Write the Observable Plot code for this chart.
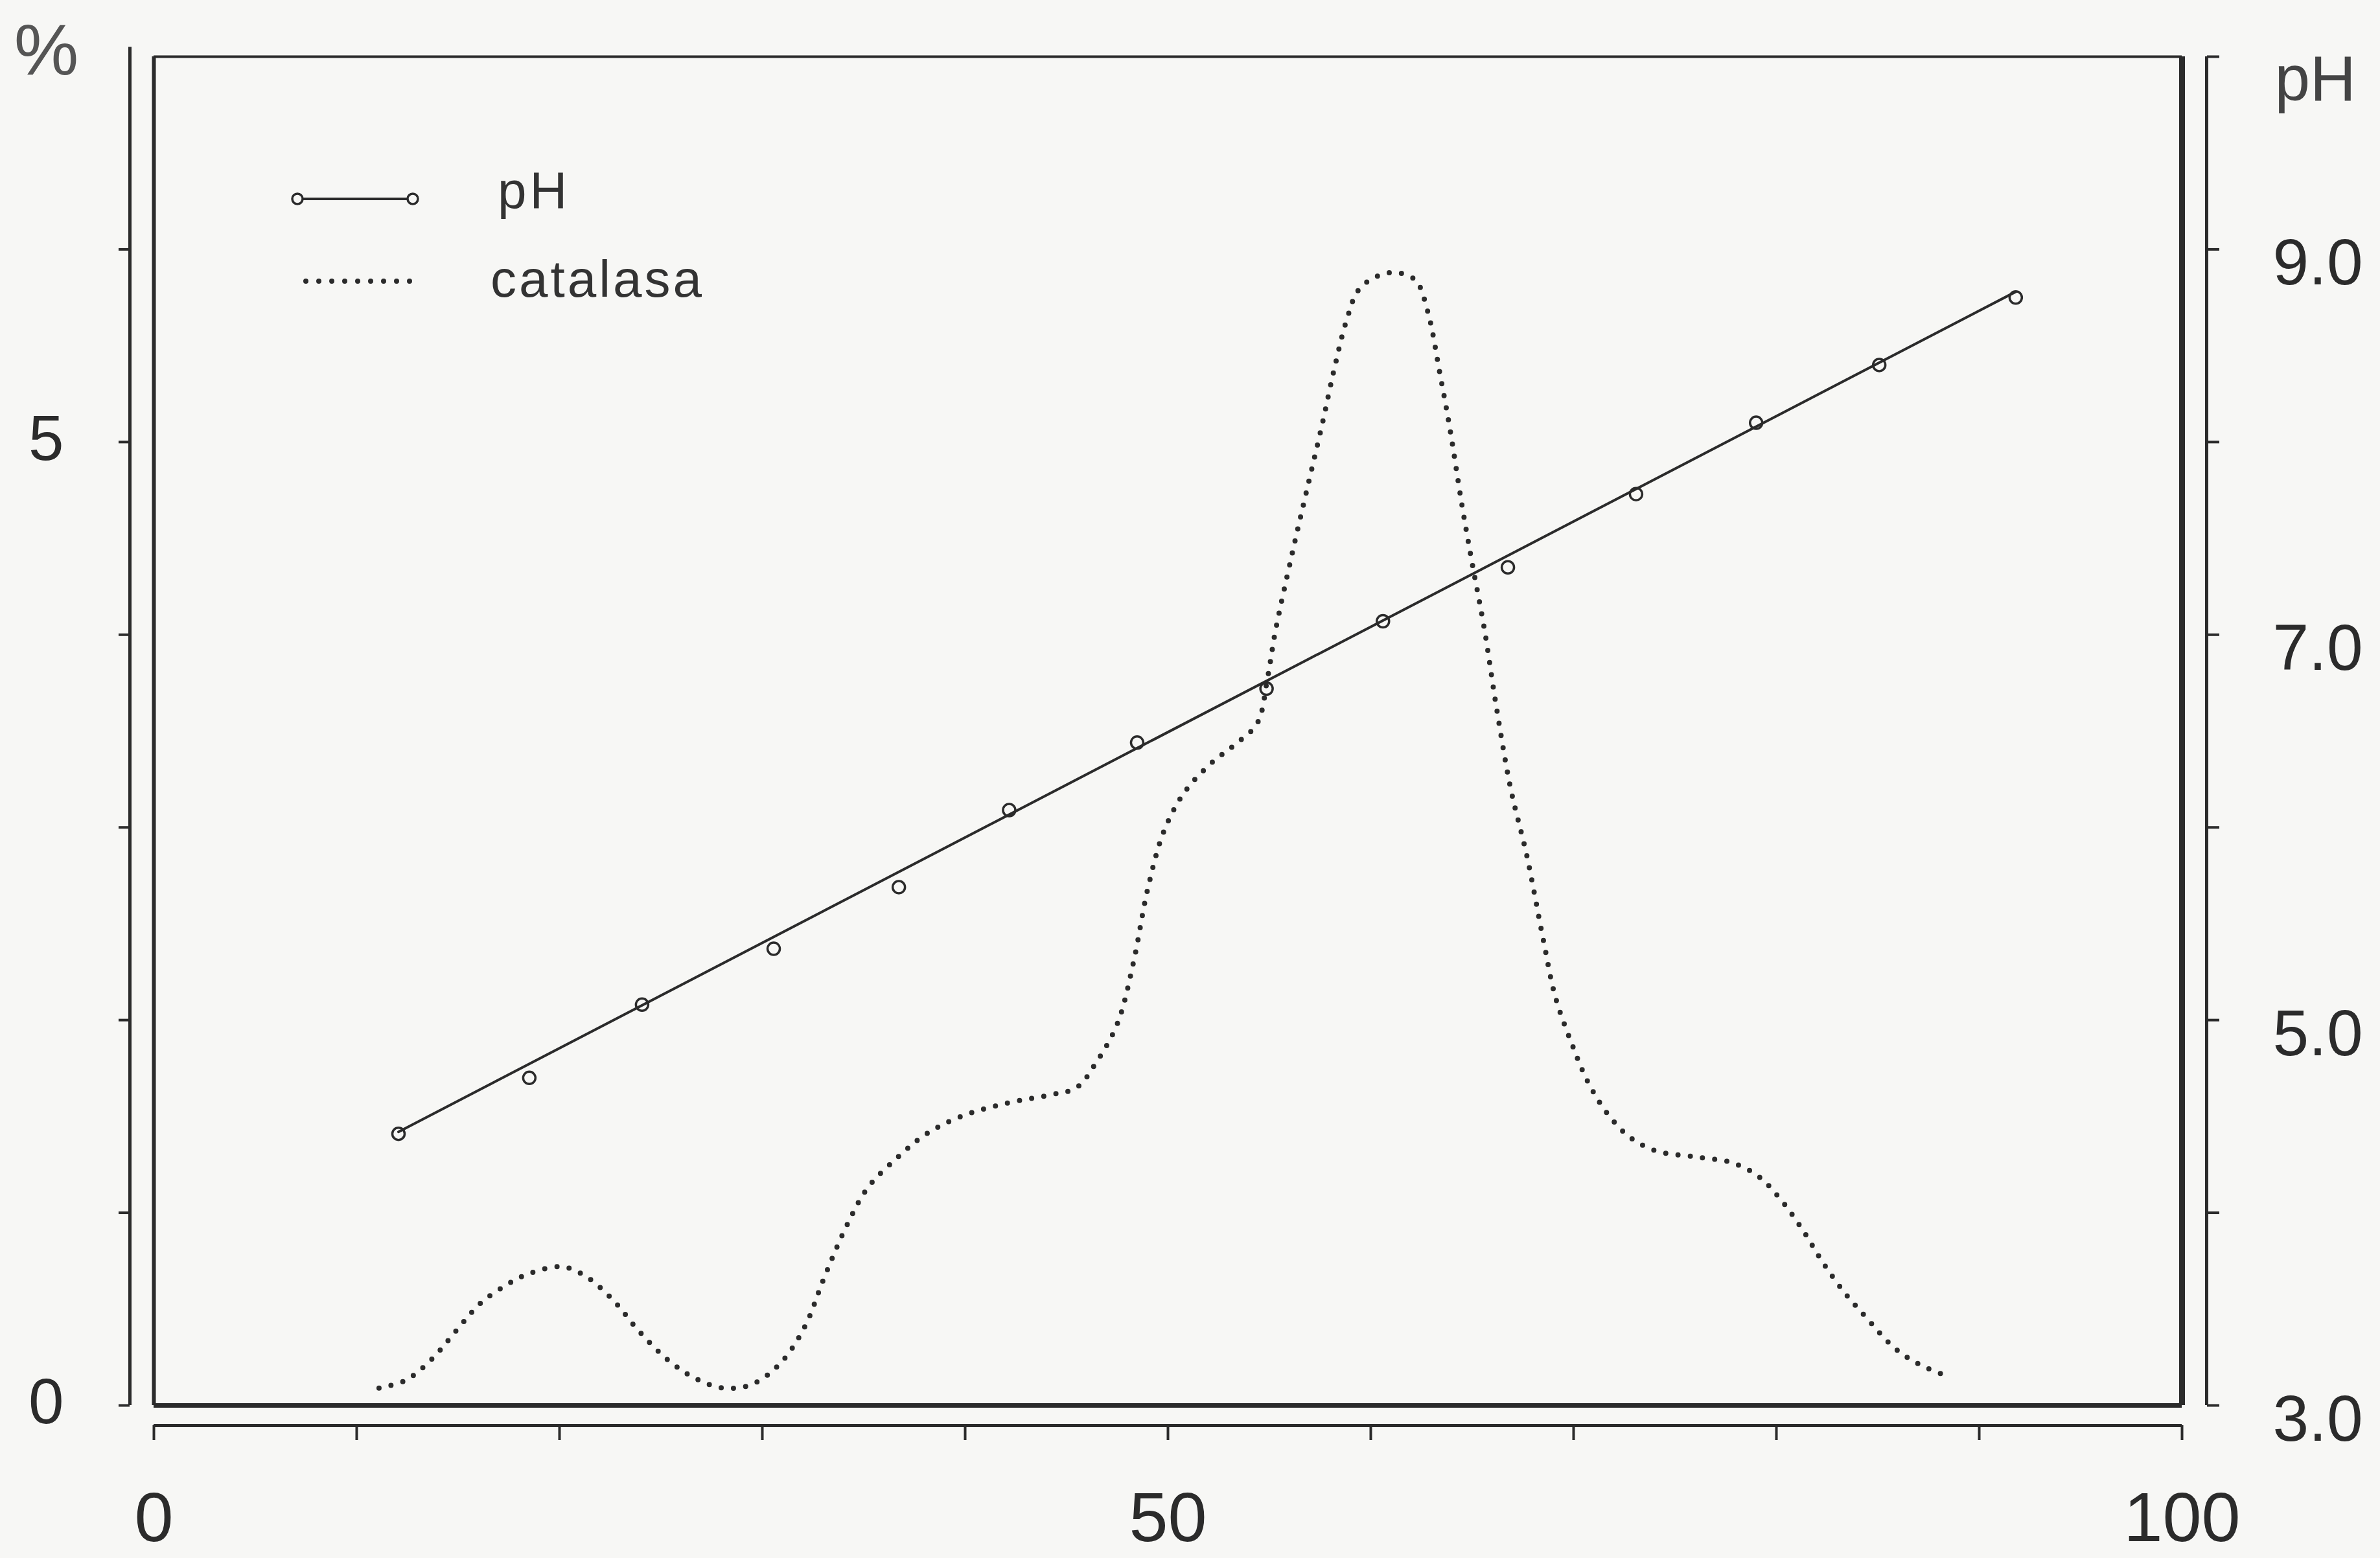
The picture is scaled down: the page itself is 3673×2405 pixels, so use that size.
<!DOCTYPE html>
<html>
<head>
<meta charset="utf-8">
<script src="https://cdn.jsdelivr.net/npm/d3@7"></script>
<script src="https://cdn.jsdelivr.net/npm/@observablehq/plot@0.6"></script>
<style>
  html, body { margin: 0; padding: 0; background: #f7f7f5; }
  #chart { position: relative; width: 3673px; height: 2405px; }
</style>
</head>
<body>
<div id="chart"></div>
<script>
// ---------- data ----------
// pH measurements (open circles)
const phX      = [12.06, 18.51, 24.07, 30.56, 36.73, 42.17, 48.48, 54.86, 60.6, 66.76, 73.08, 79.0, 85.07, 91.8];
const phValues = [4.41, 4.70, 5.08, 5.37, 5.69, 6.09, 6.44, 6.72, 7.07, 7.35, 7.73, 8.10, 8.40, 8.75];
// straight pH line drawn through the points
const phLineX      = [12.06, 91.8];
const phLineValues = [4.42, 8.78];
// catalasa (%), dotted curve
const catalasaX = [11.1, 12.4, 13.7, 15.0, 16.1, 17.3, 18.4, 20.1, 21.3, 22.7, 23.8, 25.3, 26.7, 28.1, 29.5,
  30.9, 32.1, 33.0, 34.1, 35.2, 36.7, 38.1, 39.8, 42.1, 44.1, 45.5, 46.4, 47.5, 48.3, 49.0, 49.8, 50.8, 52.1,
  53.3, 54.4, 54.9, 55.3, 56.1, 56.8, 57.6, 58.2, 58.8, 59.4, 60.3, 61.2, 62.2, 62.8, 63.4, 63.9, 64.5, 65.0,
  65.6, 66.2, 66.9, 67.7, 68.5, 69.1, 69.9, 70.7, 71.7, 72.8, 74.1, 76.0, 77.8, 79.1, 80.2, 81.3, 82.3, 83.4,
  84.4, 85.8, 87.1, 88.5];
const catalasaPct = [0.09, 0.13, 0.24, 0.40, 0.53, 0.62, 0.68, 0.72, 0.67, 0.54, 0.40, 0.24, 0.14, 0.09, 0.11,
  0.22, 0.41, 0.65, 0.92, 1.13, 1.29, 1.41, 1.50, 1.57, 1.61, 1.65, 1.77, 1.98, 2.30, 2.68, 2.98, 3.18, 3.33,
  3.43, 3.54, 3.77, 4.02, 4.41, 4.73, 5.09, 5.38, 5.63, 5.79, 5.86, 5.88, 5.84, 5.68, 5.36, 5.07, 4.67, 4.37,
  4.03, 3.62, 3.20, 2.85, 2.42, 2.12, 1.88, 1.68, 1.51, 1.39, 1.32, 1.29, 1.26, 1.19, 1.07, 0.91, 0.74, 0.58,
  0.46, 0.30, 0.21, 0.15];

// ---------- ticks ----------
const xTicks = [0, 10, 20, 30, 40, 50, 60, 70, 80, 90, 100];
const xTickLabels = [0, 50, 100];
const pctTicks = [0, 1, 2, 3, 4, 5, 6];
const pctTickLabels = [0, 5];
const phTicks = [3, 4, 5, 6, 7, 8, 9, 10];
const phTickLabels = [3, 5, 7, 9];
const PH_AT_ZERO = 3; // right axis: 0 % corresponds to pH 3.0, one pH unit per 1 %

// ---------- tables built from the arrays ----------
const phData = phX.map((x, i) => ({x, ph: phValues[i]}));
const phLine = phLineX.map((x, i) => ({x, ph: phLineValues[i]}));
const catalasa = catalasaX.map((x, i) => ({x, pct: catalasaPct[i]}));

const ink = "#2b2b2b";
const bg = "#f7f7f5";
const font = "'Liberation Sans', Arial, Helvetica, sans-serif";
const noText = () => "";

const plot = Plot.plot({
  width: 3673,
  height: 2405,
  marginLeft: 237,
  marginRight: 306,
  marginTop: 87,
  marginBottom: 236,
  x: {domain: [0, 100], axis: null, label: null},
  y: {domain: [0, 7], axis: null, label: null},
  style: {background: "transparent", fontFamily: font, color: ink},
  marks: [
    // plot box
    Plot.ruleY([0], {x1: 0, x2: 100, stroke: ink, strokeWidth: 7}),
    Plot.ruleY([7], {x1: 0, x2: 100, stroke: ink, strokeWidth: 4}),
    Plot.ruleX([0], {y1: 0, y2: 7, stroke: ink, strokeWidth: 6}),
    Plot.ruleX([100], {y1: 0, y2: 7, stroke: ink, strokeWidth: 9}),

    // left axis (%)
    Plot.ruleX([0], {y1: 0, y2: 7.05, dx: -37, stroke: ink, strokeWidth: 5}),
    Plot.axisY(pctTicks, {anchor: "left", label: null, tickSize: 17, dx: -37, stroke: ink, strokeWidth: 4, tickFormat: noText}),
    Plot.axisY(pctTickLabels, {anchor: "left", label: null, tickSize: 0, tickPadding: 102, dx: -37, dy: -4,
      fontSize: 98, fill: ink, tickFormat: d => String(d)}),

    // bottom axis
    Plot.ruleY([0], {x1: 0, x2: 100, dy: 31, stroke: ink, strokeWidth: 5}),
    Plot.axisX(xTicks, {anchor: "bottom", label: null, tickSize: 23, dy: 31, stroke: ink, strokeWidth: 4, tickFormat: noText}),
    Plot.axisX(xTickLabels, {anchor: "bottom", label: null, tickSize: 0, tickPadding: 102, dy: 31,
      fontSize: 108, fill: ink, tickFormat: d => String(d)}),

    // right axis (pH)
    Plot.ruleX([100], {y1: 0, y2: 7, dx: 38, stroke: ink, strokeWidth: 5}),
    Plot.axisY(phTicks.map(p => p - PH_AT_ZERO), {anchor: "right", label: null, tickSize: 19, dx: 38, stroke: ink, strokeWidth: 4,
      tickFormat: noText}),
    Plot.axisY(phTickLabels.map(p => p - PH_AT_ZERO), {anchor: "right", label: null, tickSize: 0, tickPadding: 102, dx: 38, dy: 22,
      fontSize: 100, fill: ink, tickFormat: d => (d + PH_AT_ZERO).toFixed(1)}),

    // axis titles
    Plot.text(["%"], {frameAnchor: "top-left", dx: -166, dy: -8, fontSize: 112, fill: "#555",
      textAnchor: "middle", lineAnchor: "middle"}),
    Plot.text(["pH"], {frameAnchor: "top-right", dx: 143, dy: 36, fontSize: 98, fill: "#444",
      textAnchor: "start", lineAnchor: "middle"}),

    // catalasa dotted curve
    Plot.line(catalasa, {x: "x", y: "pct", curve: "catmull-rom", stroke: ink, strokeWidth: 8,
      strokeDasharray: "0 19", strokeLinecap: "round"}),

    // pH straight line and points
    Plot.line(phLine, {x: "x", y: d => d.ph - PH_AT_ZERO, stroke: ink, strokeWidth: 4}),
    Plot.dot(phData, {x: "x", y: d => d.ph - PH_AT_ZERO, r: 9.5, stroke: ink, strokeWidth: 3.5, fill: "none"})
  ]
});

// ---------- legend (inside the plot box, upper left) ----------
const svg = d3.select(plot);
const lg = svg.append("g").attr("font-family", font).attr("fill", "#333").attr("text-anchor", "start");
// pH swatch: line with open circles at both ends
lg.append("line").attr("x1", 459).attr("x2", 637).attr("y1", 307).attr("y2", 307)
  .attr("stroke", ink).attr("stroke-width", 4);
[459, 637].forEach(cx => lg.append("circle").attr("cx", cx).attr("cy", 307).attr("r", 8)
  .attr("fill", bg).attr("stroke", ink).attr("stroke-width", 3.5));
lg.append("text").attr("x", 768).attr("y", 321).attr("font-size", 80).attr("letter-spacing", 5)
  .attr("text-anchor", "start").text("pH");
// catalasa swatch: dotted line
lg.append("line").attr("x1", 472).attr("x2", 652).attr("y1", 434).attr("y2", 434)
  .attr("stroke", ink).attr("stroke-width", 8).attr("stroke-dasharray", "0 20").attr("stroke-linecap", "round");
lg.append("text").attr("x", 757).attr("y", 458).attr("font-size", 80).attr("letter-spacing", 4)
  .attr("text-anchor", "start").text("catalasa");

document.getElementById("chart").appendChild(plot);
</script>
</body>
</html>
